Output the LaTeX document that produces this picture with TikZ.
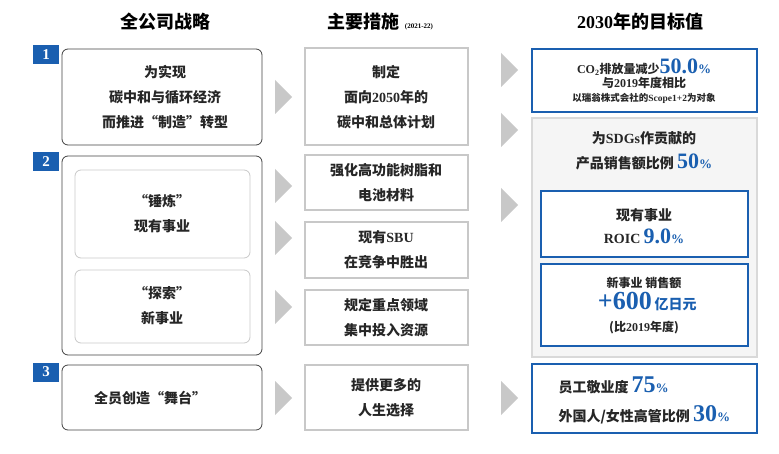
\documentclass[tikz,border=0pt]{standalone}
\usepackage{fontspec}
\setmainfont{Noto Sans CJK SC}
\newfontfamily\lat{Liberation Serif}
\definecolor{bl}{HTML}{1A5FB0}
\definecolor{gr}{HTML}{C8C8C8}
\definecolor{dk}{HTML}{404040}
\newcommand{\fs}[2]{\fontsize{#1}{#2}\selectfont}
\newcommand{\pc}[2]{{\lat\bfseries\color{bl}\fs{#1}{#1}#2{\fs{13}{13}\%}}}
\begin{document}
\begin{tikzpicture}[x=1pt,y=-1pt,
 lbox/.style={draw=dk,line width=0.8pt,rounded corners=6pt},
 ibox/.style={draw=gr,line width=0.8pt,rounded corners=6pt},
 mbox/.style={draw=gr,line width=2.5pt},
 bbox/.style={draw=bl,line width=2.5pt,fill=white},
 badge/.style={fill=bl,text=white,minimum width=26pt,minimum height=19pt,inner sep=0pt,font=\lat\bfseries\fs{15}{15}},
 txt/.style={align=center,font=\fs{14}{25}\bfseries,text=black!85},
 hd/.style={font=\fs{18}{18}\bfseries},
 tri/.style={fill=gr}]
\useasboundingbox (0,0) rectangle (779,454);
% headers
\node[hd] (h1) at (165,22) {全公司战略};
\node[hd] (h2) at (380,22) {主要措施 {\lat\fs{7}{7} (2021-22)}};
\node[hd] (h3) at (640,22) {{\lat 2030}年的目标值};
% left
\draw[lbox] (62,49) rectangle (262,145);
\draw[lbox] (62,156) rectangle (262,355);
\draw[lbox] (62,365) rectangle (262,430);
\draw[ibox] (75,170) rectangle (250,258);
\draw[ibox] (75,270) rectangle (250,343);
\node[badge] (b1) at (46,55) {1};
\node[badge] (b2) at (46,162) {2};
\node[badge] (b3) at (46,372) {3};
\node[txt] (l1) at (165,97) {为实现\\碳中和与循环经济\\而推进“制造”转型};
\node[txt] (l2) at (162,214) {“锤炼”\\现有事业};
\node[txt] (l3) at (162,306) {“探索”\\新事业};
\node[txt] (l4) at (150,398) {全员创造“舞台”};
% left arrows
\foreach \y in {97,186,238,307,398}{\fill[tri] (275,\y-17) -- (292,\y) -- (275,\y+17) -- cycle;}
% middle
\draw[mbox] (305,48) rectangle (468,145);
\draw[mbox] (305,155) rectangle (468,210);
\draw[mbox] (305,222) rectangle (468,278);
\draw[mbox] (305,290) rectangle (468,345);
\draw[mbox] (305,365) rectangle (468,430);
\node[txt] (m1) at (386,97) {制定\\面向{\lat 2050}年的\\碳中和总体计划};
\node[txt] (m2) at (386,183) {强化高功能树脂和\\电池材料};
\node[txt] (m3) at (386,250) {现有{\lat SBU}\\在竞争中胜出};
\node[txt] (m4) at (386,318) {规定重点领域\\集中投入资源};
\node[txt] (m5) at (386,398) {提供更多的\\人生选择};
% right arrows
\foreach \y in {70,130,205,398}{\fill[tri] (501,\y-17) -- (518,\y) -- (501,\y+17) -- cycle;}
% right
\draw[bbox] (532,49) rectangle (757,112);
\draw[draw=gr!70,line width=2pt,fill=black!4] (532,118) rectangle (757,357);
\draw[bbox] (541,191) rectangle (748,257);
\draw[bbox] (541,264) rectangle (748,346);
\draw[bbox] (532,364) rectangle (757,433);
\node[txt,font=\fs{12}{14}\bfseries] (r1) at (644,81) {{\lat CO\textsubscript{2}}排放量减少\pc{22}{50.0}\\与{\lat 2019}年度相比\\{\fs{9.5}{13}以瑞翁株式会社的{\lat Scope1+2}为对象}};
\node[txt] (r2) at (644,151) {为{\lat SDGs}作贡献的\\产品销售额比例 \pc{22}{50}};
\node[txt] (r3) at (644,226) {现有事业\\[-2pt]{\lat ROIC} \pc{22}{9.0}};
\node[txt,font=\fs{12}{22}\bfseries] (r4) at (644,306) {新事业 销售额\\{\color{bl}{\lat\fs{26}{22} +600} \fs{14}{14}亿日元}\\(比{\lat 2019}年度)};
\node[txt,anchor=west] (r5) at (555,385) {员工敬业度 \pc{24}{75}};
\node[txt,anchor=west] (r6) at (555,415) {外国人/女性高管比例 \pc{24}{30}};
\end{tikzpicture}
\end{document}
